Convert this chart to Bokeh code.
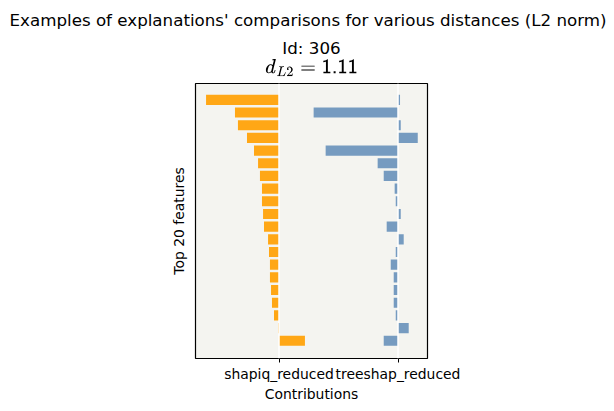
from bokeh.plotting import figure
from bokeh.models import Range1d, FixedTicker, Span, Title, ColumnDataSource
from bokeh.embed import file_html
from bokeh.resources import INLINE

# ---- data ----
methods = ["shapiq_reduced", "treeshap_reduced"]
shapiq_values = [-0.613, -0.370, -0.345, -0.269, -0.210, -0.176, -0.160, -0.143, -0.143, -0.134,
                 -0.126, -0.092, -0.084, -0.076, -0.076, -0.067, -0.059, -0.042, -0.008, 0.218]
treeshap_values = [0.017, -0.709, 0.023, 0.166, -0.608, -0.171, -0.120, -0.028, -0.019, 0.023,
                   -0.095, 0.048, -0.019, -0.061, -0.036, -0.036, -0.036, -0.019, 0.090, -0.120]
rank = list(range(20))
suptitle = "Examples of explanations' comparisons for various distances (L2 norm)"
title_id = "Id: 306"
distance_value = "1.11"

# ---- layout constants ----
W, H = 614, 411
FL, FR, FT, FB = 195, 427, 83, 358
X0PX = 278.5
XUNIT = 119.0
YTOP = -1.29
YBOT = 20.40

x_start = -(X0PX - FL) / XUNIT
x_end = 1 + (FR - (X0PX + XUNIT)) / XUNIT

p = figure(width=W, height=H, output_backend="svg", toolbar_location=None,
           x_range=Range1d(x_start, x_end), y_range=Range1d(YBOT, YTOP),
           min_border_left=FL, min_border_right=W - FR,
           min_border_top=FT, min_border_bottom=H - FB)

p.background_fill_color = "#F4F4F0"
p.border_fill_color = "white"
p.outline_line_color = "black"
p.outline_line_width = 1.2
p.xgrid.visible = False
p.ygrid.visible = False

src_a = ColumnDataSource(dict(y=rank, v=shapiq_values, base=[0.0] * len(rank)))
src_b = ColumnDataSource(dict(y=rank, v=[1.0 + t for t in treeshap_values], base=[1.0] * len(rank)))

p.hbar(y="y", left="base", right="v", height=0.8, source=src_a,
       fill_color="#FFA716", line_color=None)
p.hbar(y="y", left="base", right="v", height=0.8, source=src_b,
       fill_color="#769BC0", line_color=None)

for loc in [0, 1]:
    p.add_layout(Span(location=loc, dimension="height", line_color="white", line_width=1.5))

# x axis
xa = p.xaxis[0]
xa.ticker = FixedTicker(ticks=[0, 1])
xa.major_label_overrides = {0: methods[0], 1: methods[1]}
xa.minor_tick_line_color = None
xa.major_tick_in = 0
xa.major_tick_out = 4
xa.major_tick_line_color = "black"
xa.axis_line_color = None
xa.major_label_text_font = "DejaVu Sans"
xa.major_label_text_font_size = "13.9px"
xa.major_label_text_color = "black"
xa.major_label_standoff = 3
xa.axis_label = "Contributions"
xa.axis_label_text_font = "DejaVu Sans"
xa.axis_label_text_font_size = "13.9px"
xa.axis_label_text_font_style = "normal"
xa.axis_label_text_color = "black"
xa.axis_label_standoff = 1

# y axis
ya = p.yaxis[0]
ya.ticker = FixedTicker(ticks=[])
ya.minor_tick_line_color = None
ya.major_tick_line_color = None
ya.axis_line_color = None
ya.axis_label = "Top 20 features"
ya.axis_label_text_font = "DejaVu Sans"
ya.axis_label_text_font_size = "13.9px"
ya.axis_label_text_font_style = "normal"
ya.axis_label_text_color = "black"
ya.axis_label_standoff = 9

FS = "16.7px"
p.title = None
# panels stack upward from the frame: spacer, distance line, id line, suptitle
p.add_layout(Title(text=" ", align="center", text_font="DejaVu Sans",
                   text_font_size="1px", text_color="white", standoff=3), "above")
p.add_layout(Title(text="$$d_{L2} = \\mathsf{" + distance_value + "}$$", align="center",
                   text_font="DejaVu Sans", text_font_size=FS, text_font_style="normal",
                   text_color="black", standoff=-3), "above")
p.add_layout(Title(text=title_id, align="center", text_font="DejaVu Sans",
                   text_font_size=FS, text_font_style="normal", text_color="black",
                   standoff=1), "above")
p.add_layout(Title(text=suptitle, align="left", offset=-186, text_font="DejaVu Sans",
                   text_font_size=FS, text_font_style="normal", text_color="black",
                   standoff=11), "above")

open("out.html", "w").write(file_html(p, INLINE))
